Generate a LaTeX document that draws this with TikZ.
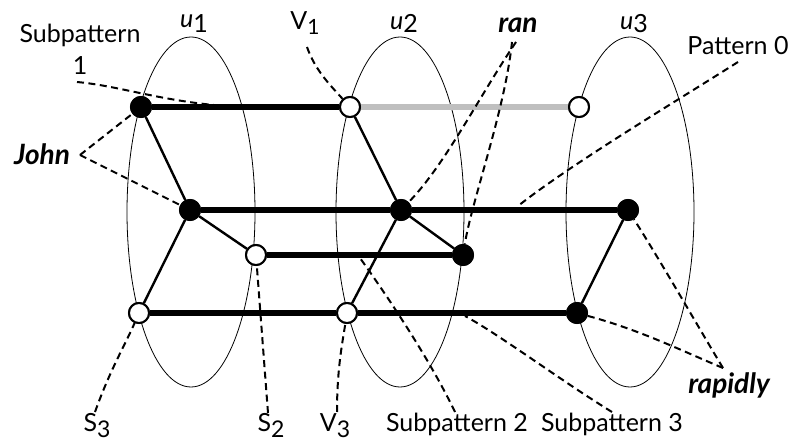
\documentclass[tikz,border=0pt]{standalone}
\usepackage{fontspec}
\setmainfont{Lato}
\begin{document}
\begin{tikzpicture}[x=1pt,y=-1pt,
  ell/.style={draw,line width=0.8pt},
  fnode/.style={circle,fill=black,draw=black,line width=1pt,minimum size=21pt,inner sep=0pt},
  onode/.style={circle,fill=white,draw=black,line width=2pt,minimum size=20pt,inner sep=0pt},
  heavy/.style={line width=6.5pt},
  grayedge/.style={line width=6.5pt,draw=black!25},
  link/.style={line width=2.4pt},
  lead/.style={line width=2pt,dash pattern=on 7pt off 4.5pt},
  lbl/.style={font=\fontsize{25}{27}\selectfont,inner sep=1pt,anchor=base},
  blbl/.style={font=\fontsize{28}{30}\selectfont\bfseries\itshape,inner sep=1pt,anchor=base},
  ulbl/.style={lbl,fill=white}
]
\useasboundingbox (0,0) rectangle (793,443);

% ellipses
\draw[ell] (191,212) ellipse [x radius=64, y radius=175];
\draw[ell] (400,212) ellipse [x radius=64, y radius=175];
\draw[ell] (630,212) ellipse [x radius=64, y radius=175];

% top labels of ellipses
\node[ulbl] (lu1) at (194,33) {\raisebox{5pt}{\textit{u}}1};
\node[ulbl] (lu2) at (404,33) {\raisebox{3pt}{\textit{u}}2};
\node[ulbl] (lu3) at (634,33) {\raisebox{3pt}{\textit{u}}3};

% nodes
\node[fnode] (j1) at (141,107) {};
\node[onode] (v1) at (350,107) {};
\node[onode] (t3) at (579,107) {};
\node[fnode] (ma) at (190,210) {};
\node[fnode] (mb) at (401,210) {};
\node[fnode] (mc) at (628,210) {};
\node[onode] (s2) at (256,255) {};
\node[fnode] (sd) at (463,255) {};
\node[onode] (s3) at (139,313) {};
\node[onode] (v3) at (347,313) {};
\node[fnode] (br) at (577,313) {};

% edges
\draw[grayedge] (v1) -- (t3);
\draw[heavy] (j1) -- (v1);
\draw[heavy] (ma) -- (mb) -- (mc);
\draw[heavy] (s2) -- (sd);
\draw[heavy] (s3) -- (v3) -- (br);
\draw[link] (j1) -- (ma);
\draw[link] (ma) -- (s2);
\draw[link] (ma) -- (s3);
\draw[link] (v1) -- (mb);
\draw[link] (mb) -- (sd);
\draw[link] (v3) -- (mb);
\draw[link] (mc) -- (br);

% labels
\node[lbl] (lsp1) at (80,43) {Subpattern};
\node[lbl] (lsp1b) at (80,75) {1};
\node[lbl] (lv1) at (305,30) {V\raisebox{-5pt}{\fontsize{21}{21}\selectfont 1}};
\node[blbl] (lran) at (518,33) {ran};
\node[lbl] (lp0) at (738,55) {Pattern 0};
\node[blbl] (ljohn) at (42,165) {John};
\node[blbl] (lrap) at (729,394) {rapidly};
\node[lbl] (ls3) at (97,432) {S\raisebox{-6pt}{\fontsize{23}{23}\selectfont 3}};
\node[lbl] (ls2) at (271,432) {S\raisebox{-6pt}{\fontsize{23}{23}\selectfont 2}};
\node[lbl] (lv3) at (335,432) {V\raisebox{-6pt}{\fontsize{23}{23}\selectfont 3}};
\node[lbl] (lsub2) at (457,432) {Subpattern 2};
\node[lbl] (lsub3) at (612,432) {Subpattern 3};

% lead coordinates
\coordinate (csp1) at (77,82);
\coordinate (esp1) at (225,106);
\coordinate (cv1) at (307,47);
\coordinate (cjohn) at (80,155);
\coordinate (cran1) at (516,42);
\coordinate (cran2) at (512,42);
\coordinate (cp0) at (738,62);
\coordinate (ep0) at (518,206);
\coordinate (crap) at (723,368);
\coordinate (cs3) at (95,412);
\coordinate (cs2) at (268,413);
\coordinate (cv3) at (337,412);
\coordinate (csub2) at (455,412);
\coordinate (esub2) at (360,258);
\coordinate (csub3) at (612,412);
\coordinate (esub3) at (465,316);

% dashed leads
\draw[lead] (csp1) .. controls (120,86) and (160,101) .. (esp1);
\draw[lead] (cv1) .. controls (315,70) and (330,85) .. (v1);
\draw[lead] (cjohn) -- (j1);
\draw[lead] (cjohn) .. controls (120,175) and (150,190) .. (ma);
\draw[lead] (cran1) .. controls (480,95) and (445,165) .. (mb);
\draw[lead] (cran2) .. controls (505,110) and (472,200) .. (sd);
\draw[lead] (cp0) .. controls (670,105) and (570,165) .. (ep0);
\draw[lead] (crap) .. controls (700,330) and (660,260) .. (mc);
\draw[lead] (crap) .. controls (680,350) and (640,330) .. (br);
\draw[lead] (cs3) .. controls (110,370) and (125,345) .. (s3);
\draw[lead] (cs2) -- (s2);
\draw[lead] (cv3) .. controls (337,370) and (342,345) .. (v3);
\draw[lead] (csub2) .. controls (430,360) and (390,300) .. (esub2);
\draw[lead] (csub3) .. controls (560,380) and (500,335) .. (esub3);

% redraw nodes on top
\node[fnode] at (j1) {};
\node[onode] at (v1) {};
\node[onode] at (t3) {};
\node[fnode] at (ma) {};
\node[fnode] at (mb) {};
\node[fnode] at (mc) {};
\node[onode] at (s2) {};
\node[fnode] at (sd) {};
\node[onode] at (s3) {};
\node[onode] at (v3) {};
\node[fnode] at (br) {};
\end{tikzpicture}
\end{document}
